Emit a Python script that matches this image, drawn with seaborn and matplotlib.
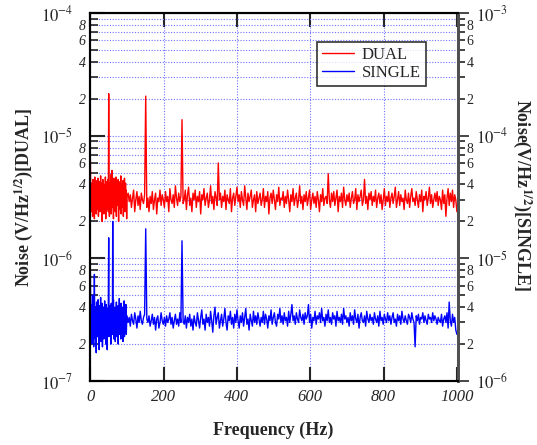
import numpy as np
import pandas as pd
import matplotlib
matplotlib.use("Agg")
import matplotlib.pyplot as plt
import seaborn as sns
from matplotlib.ticker import LogLocator, FuncFormatter
from matplotlib.lines import Line2D

# ---------------- data (noise in units of 1e-6 V/Hz^1/2) ----------------
freq_low = np.arange(0, 101, 1)          # 0..100 Hz, 1 Hz steps
freq_high = np.arange(103, 1001, 3)      # 103..1000 Hz, 3 Hz steps

dual_low = [6.5,3.2,2.4,4.1,2.9,3.6,2.2,4.4,3.0,2.6,3.9,2.1,4.6,3.3,2.7,4.0,2.3,3.5,4.3,2.5,
            3.1,4.5,2.2,3.8,2.9,4.2,2.4,3.4,4.7,2.6,3.0,4.1,2.0,3.7,4.4,2.8,3.2,2.3,4.0,3.5,
            2.7,4.6,2.1,3.3,4.2,2.5,3.9,3.0,4.4,2.4,22.0,3.6,2.2,4.1,2.9,3.4,4.8,2.3,3.1,5.2,
            2.6,4.0,3.3,2.1,4.5,2.8,3.7,4.3,2.4,3.0,4.6,2.2,3.5,4.1,2.7,3.2,4.4,2.0,3.8,2.9,
            4.2,2.5,3.4,4.7,2.3,3.1,4.0,2.6,3.6,4.3,2.2,3.9,2.8,4.5,2.4,3.3,4.1,2.7,3.6,2.1,3.2]

dual_high = [3.4,2.9,3.3,2.6,3.1,3.6,2.4,3.0,3.5,2.7,3.2,2.5,3.4,3.0,2.8,3.3,21.0,2.6,3.1,2.4,
             3.2,2.8,3.5,2.5,3.0,3.4,2.3,3.1,2.9,3.6,2.7,3.3,3.0,2.6,3.5,2.9,3.2,2.4,3.7,3.0,
             2.8,3.3,2.6,3.9,3.1,2.7,3.4,2.9,3.2,13.5,2.8,3.0,3.6,2.5,3.3,3.8,2.7,3.1,2.4,3.4,
             3.0,3.6,2.6,3.2,2.9,3.5,2.3,3.3,3.0,3.7,2.7,3.1,3.4,2.6,3.0,3.9,2.8,3.2,2.5,3.5,
             3.1,2.7,6.0,3.0,3.4,2.6,3.2,2.9,3.6,2.5,3.3,3.0,2.8,3.7,2.4,3.1,3.4,2.7,3.2,3.8,
             2.9,3.3,2.6,3.5,3.0,2.7,3.9,3.1,2.5,3.4,2.9,3.2,3.6,2.6,3.0,3.3,2.4,3.5,2.8,3.1,
             3.4,2.7,3.0,3.7,2.6,3.2,2.9,3.5,2.3,3.1,3.4,2.8,3.6,3.0,2.5,3.3,2.9,3.8,2.7,3.1,
             3.0,3.5,2.6,3.2,2.8,3.6,3.0,2.4,3.3,2.9,3.7,2.7,3.1,3.4,2.6,3.0,3.9,2.8,3.2,2.5,
             3.3,2.9,3.5,2.7,3.1,3.6,2.5,3.0,3.4,2.8,3.2,2.6,3.5,3.0,2.4,3.3,2.9,3.7,2.7,3.1,
             3.2,2.8,4.9,3.0,2.6,3.4,2.9,3.5,2.7,3.1,3.6,2.4,3.2,2.9,3.4,2.6,3.8,3.0,2.7,3.3,
             2.9,3.4,2.6,3.1,3.5,2.8,3.0,3.7,2.5,3.3,2.9,3.2,3.6,2.7,3.0,4.4,2.8,3.2,2.5,3.4,
             3.0,3.5,2.7,3.2,2.9,3.6,2.6,3.1,3.4,2.8,3.3,2.5,3.0,3.7,2.7,3.2,2.9,3.5,2.6,3.1,
             3.4,2.8,3.2,3.8,2.6,3.0,3.5,2.7,3.3,2.9,3.1,2.5,3.6,3.0,2.8,3.4,2.6,3.2,3.7,2.9,
             3.1,2.7,3.5,3.0,2.6,3.3,2.9,3.6,2.4,3.2,3.0,3.5,2.7,3.1,3.8,2.8,3.3,2.6,3.0,3.4,
             2.9,3.5,2.7,3.2,3.0,2.5,3.6,2.8,3.3,2.2,3.1,3.7,2.7,3.4,2.9,3.6,2.6,3.3,3.0,2.4]

# SINGLE values in units of 1e-6 (right axis scale)
single_low = [7.8,3.5,2.4,4.2,2.0,3.1,5.0,2.6,3.8,1.9,3.3,7.4,2.7,4.0,2.2,3.6,1.7,4.4,2.9,3.2,
              2.3,4.6,2.8,3.5,1.8,4.1,2.5,3.0,4.8,2.1,3.7,2.6,4.3,1.9,3.4,2.8,4.0,2.2,3.1,4.5,
              2.4,3.6,2.0,4.2,2.7,3.3,1.8,3.9,2.5,4.4,14.7,2.3,3.5,4.1,2.6,3.2,2.0,4.3,2.9,3.6,
              2.4,20.0,3.0,4.6,2.2,3.4,2.7,4.0,2.1,3.8,2.9,4.4,2.3,3.3,2.6,4.1,2.0,3.5,2.8,4.7,
              2.4,3.2,3.9,2.2,4.3,2.7,3.4,2.5,4.0,2.1,3.6,2.9,4.5,2.3,3.1,3.8,2.6,4.2,2.4,3.0,3.4]

single_high = [3.0,3.3,2.8,3.5,3.1,2.9,3.6,3.2,2.7,3.4,3.0,3.7,3.1,2.9,3.3,3.5,17.4,3.2,3.0,3.4,
               2.8,3.1,3.5,2.9,3.3,2.6,3.2,3.4,2.7,3.0,3.6,3.1,2.9,3.3,2.8,3.4,3.0,3.2,3.6,2.9,
               3.3,2.7,3.1,3.5,2.9,3.2,2.8,3.6,3.0,13.9,3.1,2.9,3.4,2.7,3.3,3.0,3.5,2.8,3.2,2.6,
               3.4,3.0,2.8,3.6,3.1,2.7,3.3,3.8,2.9,3.2,2.6,3.5,3.0,3.3,2.8,3.7,3.1,2.5,3.4,4.0,
               2.9,3.3,3.6,2.7,3.1,3.5,2.8,3.2,3.9,3.0,2.6,3.4,3.1,3.7,2.9,3.3,2.7,3.5,3.0,3.8,
               3.1,2.7,3.4,3.0,3.6,2.8,3.3,3.9,2.9,3.2,2.6,3.5,3.1,2.8,3.7,3.0,3.4,2.9,3.6,3.2,
               2.8,3.3,3.0,3.7,2.9,3.5,3.2,2.7,3.4,3.1,3.8,2.9,3.3,3.6,3.0,2.8,3.5,3.2,3.9,3.0,
               3.4,2.9,3.6,3.1,3.3,2.8,3.7,3.0,3.5,4.2,3.1,3.4,2.9,3.6,3.2,3.0,3.8,3.3,3.1,3.5,
               2.9,3.6,3.2,3.4,4.2,3.0,3.5,2.7,3.3,3.1,3.7,2.9,3.4,3.2,3.6,3.0,3.9,3.1,3.3,2.8,
               3.5,3.1,3.8,3.0,3.3,2.9,3.6,3.2,3.4,2.8,3.7,3.1,3.3,3.0,3.5,2.9,3.9,3.2,3.4,3.0,
               3.3,2.8,3.6,3.1,3.4,2.9,3.8,3.2,3.0,3.5,2.7,3.3,3.6,3.1,3.0,3.4,2.8,3.7,3.2,3.0,
               3.5,3.1,3.3,2.9,3.6,3.2,3.0,3.4,2.8,3.7,3.1,3.3,2.9,3.5,3.2,3.0,3.6,3.1,3.4,2.9,
               3.3,3.6,3.0,3.2,2.8,3.5,3.1,3.4,2.9,3.7,3.2,3.0,3.4,3.1,2.9,3.5,3.3,3.0,3.6,3.2,
               3.0,1.9,3.4,3.1,3.5,2.9,3.3,3.2,3.6,3.0,3.4,3.1,2.9,3.5,3.2,3.3,3.0,3.6,3.1,3.4,
               3.2,2.9,3.3,3.1,3.0,3.5,2.8,3.2,3.4,3.0,3.6,2.7,4.4,3.1,2.8,3.5,3.0,3.3,2.6,2.4]

x_ticks = [0, 200, 400, 600, 800, 1000]
series_names = ["DUAL", "SINGLE"]
unit = 1e-6

# ---------------- style ----------------
sns.set_style("ticks")
plt.rcParams["font.family"] = ["Liberation Serif", "DejaVu Serif"]
plt.rcParams["mathtext.fontset"] = "stix"

freq = np.concatenate([freq_low, freq_high])
df = pd.DataFrame({
    "Frequency": freq,
    "DUAL": np.array(dual_low + dual_high) * unit,
    "SINGLE": np.array(single_low + single_high) * unit,
})

fig = plt.figure(figsize=(5.37, 4.45), dpi=100)
ax = fig.add_axes([90 / 537, 1 - 381 / 445, 368 / 537, 368 / 445])
ax2 = ax.twinx()

red, blue = "#ff0000", "#0000ff"
sns.lineplot(data=df, x="Frequency", y="DUAL", ax=ax, color=red, lw=1.0,
             estimator=None, sort=False, legend=False)
sns.lineplot(data=df, x="Frequency", y="SINGLE", ax=ax2, color=blue, lw=1.0,
             estimator=None, sort=False, legend=False)

ax.set_yscale("log")
ax2.set_yscale("log")
ax.set_ylim(1e-7, 1e-4)
ax2.set_ylim(1e-6, 1e-3)
ax.set_xlim(-1, 1003)
for a in (ax, ax2):
    a.set_xlabel("")
    a.set_ylabel("")

# grid
grid_kw = dict(color="#7070ff", linestyle=(0, (1, 1.5)), linewidth=0.8)
ax.grid(True, which="both", axis="y", **grid_kw)
ax.grid(True, which="major", axis="x", **grid_kw)
ax.set_axisbelow(True)

# y ticks
def major_fmt(italic):
    def f(v, p):
        e = int(round(np.log10(v)))
        if italic:
            return r"$\mathit{10}^{\mathit{%d}}$" % e
        return r"$10^{%d}$" % e
    return f

def minor_fmt(v, p):
    e = np.floor(np.log10(v) + 1e-9)
    m = int(round(v / 10 ** e))
    return str(m) if m in (2, 4, 6, 8) else ""

for a, italic in ((ax, True), (ax2, False)):
    a.yaxis.set_major_locator(LogLocator(base=10, numticks=10))
    a.yaxis.set_minor_locator(LogLocator(base=10, subs=np.arange(2, 10), numticks=20))
    a.yaxis.set_major_formatter(FuncFormatter(major_fmt(italic)))
    a.yaxis.set_minor_formatter(FuncFormatter(minor_fmt))

ax.tick_params(axis="y", which="major", direction="in", length=11, width=1.5,
               left=True, right=False, labelsize=12, pad=12)
ax.tick_params(axis="y", which="minor", direction="in", length=6, width=1.2,
               left=True, right=False, labelsize=10, pad=3)
ax2.tick_params(axis="y", which="major", direction="out", length=8, width=1.2,
                labelsize=12, pad=5)
ax2.tick_params(axis="y", which="minor", direction="out", length=5, width=1.2,
                labelsize=10, pad=1)
for lab in ax.get_yticklabels(which="both"):
    lab.set_fontstyle("italic")

ax.set_xticks(x_ticks)
ax.set_xticklabels([str(t) for t in x_ticks], fontstyle="italic", fontsize=12)
ax.tick_params(axis="x", direction="in", length=10, width=1.5, top=True, bottom=True, pad=6)

for a in (ax, ax2):
    for s in ("left", "bottom", "top"):
        a.spines[s].set_color("black")
        a.spines[s].set_linewidth(1.5)
    a.spines["right"].set_color("#505050")
    a.spines["right"].set_linewidth(2.0)

# labels
fig.text(273 / 537, 1 - 430 / 445, "Frequency (Hz)", ha="center", va="center",
         fontsize=13, fontweight="bold")
fig.text(24 / 537, 1 - 197 / 445, r"Noise (V/Hz$^{\mathbf{1/2}}$)[DUAL]", ha="center",
         va="center", rotation=90, fontsize=13, fontweight="bold")
fig.text(522 / 537, 1 - 195 / 445, r"Noise(V/Hz$^{\mathbf{1/2}}$)[SINGLE]", ha="center",
         va="center", rotation=270, fontsize=13, fontweight="bold")

# legend
handles = [Line2D([], [], color=red, lw=1.0), Line2D([], [], color=blue, lw=1.0)]
leg = ax2.legend(handles, series_names, loc="upper left",
                 bbox_to_anchor=((317 - 90) / 368, (381 - 42) / 368),
                 frameon=True, fancybox=False, edgecolor="black", fontsize=12,
                 handlelength=1.9, borderpad=0.3, labelspacing=0.1, handletextpad=0.5,
                 borderaxespad=0)
leg.get_frame().set_linewidth(1.2)

fig.savefig("out.png", dpi=100)
